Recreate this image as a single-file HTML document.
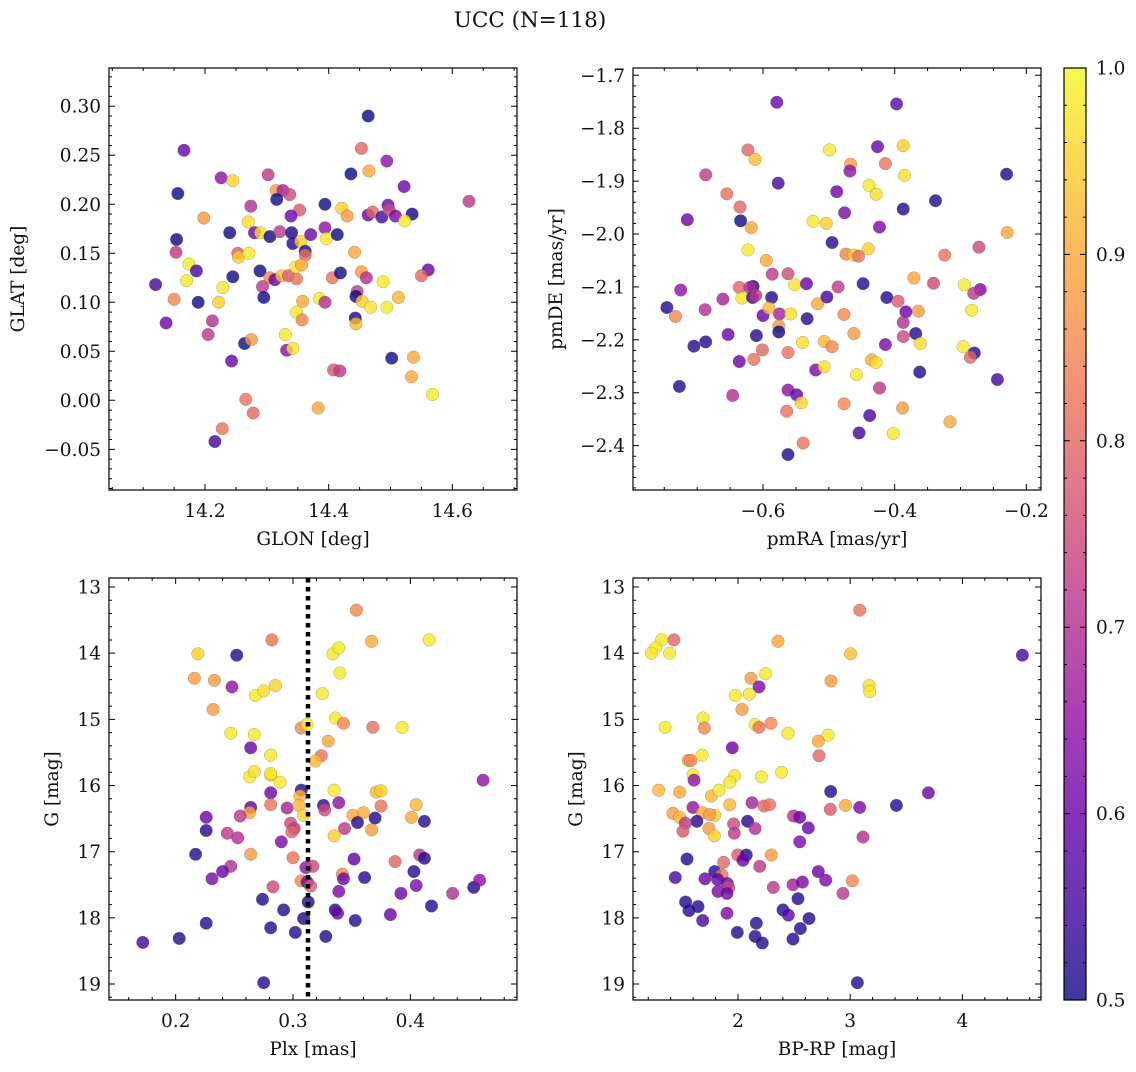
<!DOCTYPE html>
<html><head><meta charset="utf-8"><style>
html,body{margin:0;padding:0;background:#fff;}
svg text{font-family:"DejaVu Serif","Liberation Serif",serif;fill:#111;}
</style></head><body>
<svg id="fig" xmlns="http://www.w3.org/2000/svg" width="1136" height="1067" viewBox="0 0 1136 1067">
<text x="530" y="27" font-size="21.5" text-anchor="middle">UCC (N=118)</text>
</svg>
<script>
// ---- Panel 1: GLON vs GLAT ----
const p1Glon=[14.464,14.166,14.453,14.494,14.226,14.245,14.302,14.436,14.465,14.522,14.156,14.315,14.326,14.337,14.316,14.274,14.394,14.353,14.339,14.421,14.430,14.464,14.471,14.486,14.496,14.498,14.508,14.535,14.523,14.627,14.198,14.270,14.240,14.280,14.290,14.305,14.321,14.340,14.342,14.355,14.362,14.362,14.371,14.394,14.396,14.414,14.154,14.153,14.253,14.254,14.271,14.442,14.174,14.186,14.170,14.245,14.229,14.120,14.289,14.305,14.313,14.324,14.335,14.348,14.347,14.356,14.293,14.295,14.406,14.419,14.453,14.461,14.488,14.561,14.550,14.446,14.444,14.454,14.468,14.494,14.513,14.385,14.394,14.358,14.150,14.189,14.222,14.137,14.212,14.205,14.348,14.357,14.443,14.444,14.264,14.275,14.330,14.332,14.342,14.243,14.502,14.537,14.534,14.568,14.408,14.418,14.266,14.383,14.278,14.228,14.216];
const p1Glat=[0.290,0.255,0.257,0.244,0.227,0.224,0.230,0.231,0.234,0.218,0.211,0.214,0.214,0.210,0.205,0.198,0.200,0.194,0.188,0.196,0.188,0.189,0.192,0.187,0.199,0.194,0.188,0.190,0.183,0.203,0.186,0.182,0.171,0.171,0.171,0.167,0.172,0.171,0.160,0.162,0.152,0.148,0.169,0.176,0.165,0.169,0.164,0.151,0.150,0.146,0.150,0.151,0.139,0.132,0.122,0.126,0.115,0.118,0.132,0.125,0.123,0.127,0.127,0.124,0.136,0.138,0.116,0.105,0.125,0.130,0.131,0.125,0.121,0.133,0.127,0.111,0.106,0.101,0.095,0.095,0.105,0.104,0.100,0.101,0.103,0.100,0.100,0.079,0.081,0.067,0.090,0.082,0.084,0.078,0.058,0.062,0.067,0.051,0.053,0.040,0.043,0.044,0.024,0.006,0.031,0.030,0.001,-0.008,-0.013,-0.029,-0.042];
const p1Prob=[0.5,0.6,0.8,0.65,0.65,0.95,0.72,0.5,0.9,0.6,0.5,0.88,0.68,0.75,0.5,0.7,0.5,0.78,0.6,0.95,0.88,0.6,0.8,0.55,0.6,0.75,0.62,0.5,0.98,0.72,0.88,0.97,0.5,0.6,0.97,0.5,0.72,0.5,0.52,0.95,0.5,0.82,0.6,0.65,0.98,0.5,0.5,0.72,0.78,0.95,0.98,0.9,0.98,0.55,0.98,0.5,0.98,0.55,0.5,0.85,0.6,0.93,0.78,0.82,0.98,0.9,0.72,0.5,0.82,0.5,0.88,0.7,0.98,0.6,0.8,0.72,0.5,0.95,0.98,0.98,0.92,0.98,0.7,0.9,0.85,0.5,0.95,0.6,0.7,0.72,0.98,0.85,0.5,0.92,0.5,0.88,0.98,0.65,0.98,0.6,0.5,0.9,0.9,0.98,0.78,0.72,0.82,0.9,0.8,0.82,0.55];
// ---- Panel 2: pmRA vs pmDE ----
const p2PmRA=[-0.579,-0.397,-0.623,-0.612,-0.499,-0.426,-0.387,-0.467,-0.468,-0.414,-0.385,-0.687,-0.230,-0.577,-0.655,-0.488,-0.439,-0.428,-0.338,-0.635,-0.476,-0.387,-0.715,-0.634,-0.618,-0.524,-0.504,-0.423,-0.229,-0.495,-0.623,-0.474,-0.462,-0.455,-0.440,-0.324,-0.272,-0.595,-0.586,-0.562,-0.552,-0.534,-0.486,-0.448,-0.371,-0.341,-0.294,-0.270,-0.280,-0.725,-0.746,-0.733,-0.688,-0.661,-0.636,-0.615,-0.620,-0.632,-0.616,-0.611,-0.587,-0.600,-0.591,-0.575,-0.558,-0.533,-0.517,-0.503,-0.477,-0.412,-0.395,-0.383,-0.387,-0.364,-0.283,-0.576,-0.576,-0.705,-0.687,-0.653,-0.610,-0.601,-0.614,-0.636,-0.562,-0.540,-0.507,-0.495,-0.462,-0.414,-0.387,-0.368,-0.361,-0.296,-0.279,-0.285,-0.520,-0.507,-0.435,-0.428,-0.458,-0.362,-0.244,-0.727,-0.646,-0.562,-0.549,-0.542,-0.423,-0.477,-0.388,-0.564,-0.438,-0.316,-0.454,-0.402,-0.539,-0.562];
const p2PmDE=[-1.751,-1.754,-1.841,-1.859,-1.841,-1.835,-1.833,-1.868,-1.881,-1.867,-1.889,-1.888,-1.887,-1.904,-1.924,-1.920,-1.908,-1.925,-1.937,-1.949,-1.960,-1.953,-1.973,-1.975,-1.988,-1.976,-1.980,-1.987,-1.997,-2.016,-2.030,-2.038,-2.040,-2.042,-2.028,-2.040,-2.025,-2.050,-2.076,-2.075,-2.096,-2.094,-2.100,-2.094,-2.083,-2.093,-2.096,-2.105,-2.112,-2.106,-2.139,-2.156,-2.143,-2.123,-2.101,-2.099,-2.101,-2.121,-2.120,-2.116,-2.120,-2.154,-2.140,-2.151,-2.151,-2.160,-2.132,-2.119,-2.152,-2.120,-2.127,-2.147,-2.167,-2.146,-2.144,-2.174,-2.185,-2.212,-2.204,-2.190,-2.192,-2.219,-2.237,-2.241,-2.224,-2.205,-2.203,-2.213,-2.188,-2.209,-2.194,-2.188,-2.207,-2.213,-2.225,-2.233,-2.257,-2.251,-2.238,-2.243,-2.266,-2.261,-2.275,-2.288,-2.305,-2.295,-2.304,-2.319,-2.291,-2.321,-2.329,-2.335,-2.343,-2.355,-2.376,-2.377,-2.395,-2.417];
const p2Prob=[0.6,0.58,0.8,0.93,0.98,0.6,0.95,0.88,0.65,0.82,0.97,0.72,0.52,0.55,0.82,0.6,0.98,0.97,0.52,0.8,0.62,0.52,0.6,0.5,0.9,0.98,0.95,0.62,0.9,0.52,0.98,0.85,0.95,0.82,0.95,0.82,0.75,0.9,0.72,0.75,0.98,0.6,0.72,0.52,0.9,0.75,0.98,0.62,0.72,0.65,0.52,0.85,0.7,0.68,0.8,0.5,0.7,0.98,0.55,0.72,0.52,0.6,0.92,0.68,0.97,0.52,0.9,0.55,0.85,0.52,0.78,0.6,0.7,0.88,0.98,0.88,0.5,0.52,0.52,0.6,0.52,0.8,0.82,0.6,0.82,0.97,0.92,0.85,0.88,0.62,0.75,0.52,0.97,0.98,0.52,0.8,0.62,0.97,0.9,0.97,0.98,0.52,0.55,0.52,0.7,0.65,0.58,0.95,0.72,0.85,0.88,0.82,0.55,0.9,0.55,0.98,0.82,0.52];
// ---- Panel 3: Plx vs G ----
const p3Plx=[0.354,0.282,0.367,0.416,0.219,0.252,0.334,0.339,0.340,0.216,0.233,0.248,0.268,0.275,0.285,0.232,0.325,0.247,0.267,0.307,0.312,0.336,0.343,0.368,0.393,0.264,0.281,0.330,0.324,0.319,0.263,0.267,0.281,0.281,0.289,0.462,0.281,0.307,0.306,0.335,0.371,0.375,0.405,0.339,0.326,0.327,0.264,0.263,0.281,0.295,0.305,0.309,0.226,0.255,0.351,0.360,0.375,0.401,0.412,0.355,0.370,0.226,0.244,0.253,0.298,0.301,0.299,0.344,0.335,0.367,0.290,0.217,0.264,0.300,0.352,0.387,0.408,0.412,0.247,0.240,0.231,0.311,0.317,0.342,0.343,0.361,0.403,0.307,0.312,0.315,0.283,0.339,0.392,0.405,0.436,0.454,0.459,0.274,0.292,0.313,0.336,0.338,0.383,0.418,0.309,0.353,0.226,0.281,0.302,0.328,0.203,0.172,0.275];
const p3G=[13.35,13.80,13.82,13.80,14.01,14.03,14.01,13.92,14.30,14.38,14.41,14.51,14.64,14.57,14.49,14.85,14.61,15.21,15.23,15.13,15.08,14.98,15.06,15.12,15.12,15.43,15.54,15.33,15.55,15.63,15.87,15.79,15.84,15.82,15.95,15.92,16.11,16.07,16.16,16.07,16.10,16.08,16.29,16.26,16.30,16.37,16.33,16.41,16.29,16.34,16.30,16.45,16.48,16.46,16.45,16.41,16.31,16.48,16.54,16.56,16.49,16.68,16.72,16.79,16.57,16.65,16.70,16.65,16.76,16.67,16.85,17.04,17.04,17.09,17.11,17.15,17.05,17.10,17.22,17.30,17.41,17.24,17.22,17.34,17.41,17.39,17.30,17.44,17.46,17.52,17.53,17.60,17.63,17.51,17.63,17.54,17.43,17.72,17.88,17.76,17.88,17.93,17.95,17.82,18.01,18.04,18.08,18.15,18.22,18.28,18.31,18.37,18.98];
const p3Prob=[0.85,0.82,0.9,0.98,0.95,0.52,0.98,0.98,0.98,0.88,0.88,0.65,0.98,0.97,0.95,0.88,0.98,0.98,0.98,0.85,0.98,0.98,0.85,0.82,0.98,0.6,0.98,0.9,0.82,0.92,0.98,0.97,0.95,0.98,0.98,0.65,0.6,0.52,0.92,0.98,0.92,0.95,0.92,0.65,0.52,0.75,0.58,0.9,0.82,0.68,0.92,0.95,0.6,0.72,0.9,0.9,0.82,0.9,0.52,0.52,0.52,0.52,0.72,0.7,0.75,0.72,0.8,0.72,0.95,0.88,0.62,0.52,0.88,0.82,0.58,0.8,0.72,0.52,0.7,0.6,0.62,0.65,0.75,0.85,0.6,0.52,0.52,0.85,0.6,0.78,0.75,0.62,0.6,0.62,0.7,0.52,0.65,0.52,0.52,0.52,0.52,0.6,0.6,0.52,0.52,0.52,0.52,0.52,0.52,0.52,0.52,0.55,0.52];
const p3PlxMarker=0.3128;
// ---- Panel 4: BP-RP vs G ----
const p4BpRp=[3.085,1.429,1.319,1.266,1.227,1.391,2.357,3.004,4.535,2.247,2.116,2.187,2.829,3.168,3.174,1.976,2.101,2.036,1.349,1.688,1.700,2.152,2.187,2.294,2.446,2.802,2.716,2.722,1.949,1.557,1.578,1.679,1.599,1.608,1.970,1.926,2.208,2.389,1.293,1.480,1.762,1.831,1.926,1.599,2.826,3.412,3.697,2.125,2.232,2.282,2.823,2.957,3.085,1.420,1.480,1.682,1.634,1.792,1.747,1.530,1.510,1.741,1.789,1.961,1.967,2.086,2.152,2.496,2.550,2.627,2.550,3.114,1.545,1.997,2.074,2.297,2.045,1.441,1.706,1.792,1.872,1.857,2.193,2.315,1.819,1.905,1.917,1.822,1.902,2.490,2.574,2.716,2.782,3.019,2.936,1.533,1.563,1.643,1.685,1.902,2.401,2.449,2.535,2.633,2.163,2.556,1.994,2.152,2.217,2.490,3.064];
const p4G=[13.35,13.80,13.80,13.92,14.00,14.00,13.82,14.01,14.03,14.31,14.38,14.51,14.42,14.49,14.58,14.64,14.62,14.85,15.12,14.98,15.13,15.08,15.12,15.06,15.21,15.24,15.33,15.55,15.43,15.62,15.62,15.54,15.84,15.92,15.85,15.95,15.87,15.80,16.07,16.10,16.16,16.07,16.29,16.33,16.09,16.30,16.11,16.26,16.31,16.29,16.36,16.30,16.33,16.42,16.48,16.41,16.54,16.45,16.44,16.57,16.69,16.65,16.76,16.58,16.72,16.54,16.65,16.46,16.48,16.64,16.85,16.78,17.11,17.05,17.05,17.05,17.13,17.39,17.41,17.30,17.16,17.35,17.22,17.54,17.42,17.48,17.54,17.60,17.63,17.50,17.46,17.30,17.43,17.44,17.63,17.76,17.89,17.83,18.04,17.93,17.88,17.96,17.71,18.01,18.08,18.16,18.22,18.28,18.38,18.32,18.98];
const p4Prob=[0.82,0.8,0.98,0.98,0.98,0.98,0.9,0.93,0.55,0.98,0.88,0.62,0.88,0.97,0.98,0.98,0.98,0.88,0.98,0.98,0.85,0.98,0.82,0.85,0.98,0.98,0.9,0.8,0.6,0.88,0.85,0.98,0.98,0.65,0.97,0.98,0.98,0.98,0.92,0.9,0.92,0.98,0.92,0.65,0.52,0.52,0.6,0.68,0.8,0.82,0.78,0.9,0.62,0.88,0.92,0.9,0.52,0.95,0.88,0.72,0.78,0.88,0.95,0.75,0.72,0.52,0.7,0.7,0.6,0.6,0.62,0.7,0.52,0.78,0.52,0.88,0.6,0.55,0.6,0.52,0.8,0.82,0.72,0.72,0.58,0.6,0.75,0.62,0.6,0.68,0.62,0.6,0.62,0.85,0.72,0.52,0.52,0.52,0.55,0.62,0.52,0.58,0.52,0.52,0.52,0.52,0.52,0.52,0.52,0.52,0.52];
// ---- Tick labels ----
const p1XTicks=[14.2,14.4,14.6], p1YTicks=[-0.05,0,0.05,0.10,0.15,0.20,0.25,0.30];
const p2XTicks=[-0.6,-0.4,-0.2], p2YTicks=[-2.4,-2.3,-2.2,-2.1,-2.0,-1.9,-1.8,-1.7];
const p3XTicks=[0.2,0.3,0.4], p34YTicks=[13,14,15,16,17,18,19];
const p4XTicks=[2,3,4];
const cbTicks=[0.5,0.6,0.7,0.8,0.9,1.0];

const NS="http://www.w3.org/2000/svg";
const svg=document.getElementById('fig');
const FS=18.5;
function mk(tag,attrs,parent){const e=document.createElementNS(NS,tag);for(const k in attrs)e.setAttribute(k,attrs[k]);(parent||svg).appendChild(e);return e;}
const plasma=[[13,8,135],[65,4,157],[106,0,168],[143,13,164],[177,42,144],[204,71,120],[225,100,98],[242,132,75],[252,166,54],[252,206,37],[240,249,33]];
function cmap(v){let t=(v-0.5)/0.5;t=Math.max(0,Math.min(1,t));const f=t*10,i=Math.min(9,Math.floor(f)),r=f-i;const a=plasma[i],b=plasma[i+1];return `rgb(${Math.round(a[0]+(b[0]-a[0])*r)},${Math.round(a[1]+(b[1]-a[1])*r)},${Math.round(a[2]+(b[2]-a[2])*r)})`;}
function fmt(v,d){return (v<0?'\u2212':'')+Math.abs(v).toFixed(d);}

function panel(cfg){
  const {name,L,T,W,H,xmin,xmax,ymin,ymax,invert}=cfg;
  const g=mk('g',{});
  
  
  const sx=v=>L+(v-xmin)/(xmax-xmin)*W;
  const sy=invert?(v=>T+(v-ymin)/(ymax-ymin)*H):(v=>T+H-(v-ymin)/(ymax-ymin)*H);
  const pg=mk('g',{},g);
  
  
  for(let i=0;i<cfg.xs.length;i++){
    const c=mk('circle',{cx:sx(cfg.xs[i]).toFixed(1),cy:sy(cfg.ys[i]).toFixed(1),r:6.3,fill:cmap(cfg.cs[i]),'fill-opacity':0.8,stroke:'#555','stroke-width':0.4,'stroke-opacity':0.6},pg);
    
    
  }
  if(cfg.vline!==undefined){
    const ln=mk('line',{x1:sx(cfg.vline),x2:sx(cfg.vline),y1:T,y2:T+H,stroke:'#000','stroke-width':4.5,'stroke-dasharray':'4.5 4.5'},g);
    
    
  }
  const fr=mk('rect',{x:L,y:T,width:W,height:H,fill:'none',stroke:'#000','stroke-width':1.2},g);
  
  
  let d='';
  const eps=1e-9;
  for(let v=Math.ceil(xmin/cfg.xminor)*cfg.xminor;v<=xmax+eps;v+=cfg.xminor){const x=sx(v);d+=`M${x},${T+H}v-3M${x},${T}v3`;}
  for(let v=Math.ceil(ymin/cfg.yminor)*cfg.yminor;v<=ymax+eps;v+=cfg.yminor){const y=sy(v);d+=`M${L},${y}h3M${L+W},${y}h-3`;}
  cfg.xt.forEach(v=>{const x=sx(v);d+=`M${x},${T+H}v-6M${x},${T}v6`;});
  cfg.yt.forEach(v=>{const y=sy(v);d+=`M${L},${y}h6M${L+W},${y}h-6`;});
  const tk=mk('path',{d:d,stroke:'#000','stroke-width':1,fill:'none'},g);
  
  
  cfg.xt.forEach(v=>{const t=mk('text',{x:sx(v),y:T+H+27,'font-size':FS,'text-anchor':'middle'},g);t.textContent=fmt(v,cfg.xd);
    
    });
  cfg.yt.forEach(v=>{const t=mk('text',{x:L-8,y:sy(v)+6.5,'font-size':FS,'text-anchor':'end'},g);t.textContent=fmt(v,cfg.yd);
    
    });
  const xl=mk('text',{x:L+W/2,y:T+H+55,'font-size':FS,'text-anchor':'middle'},g);xl.textContent=cfg.xlabel;
  
  
  const yl=mk('text',{x:0,y:0,'font-size':FS,'text-anchor':'middle',transform:`translate(${cfg.ylx},${T+H/2}) rotate(-90)`},g);yl.textContent=cfg.ylabel;
  
  
}
panel({name:'glon-glat',L:109,T:68,W:408,H:422,xmin:14.0447,xmax:14.7046,ymin:-0.0915,ymax:0.339,xs:p1Glon,ys:p1Glat,cs:p1Prob,xt:p1XTicks,yt:p1YTicks,xminor:0.05,yminor:0.01,xd:1,yd:2,xlabel:'GLON [deg]',ylabel:'GLAT [deg]',ylx:24});
panel({name:'pmra-pmde',L:633,T:68,W:408,H:422,xmin:-0.7975,xmax:-0.1777,ymin:-2.4839,ymax:-1.6862,xs:p2PmRA,ys:p2PmDE,cs:p2Prob,xt:p2XTicks,yt:p2YTicks,xminor:0.05,yminor:0.02,xd:1,yd:1,xlabel:'pmRA [mas/yr]',ylabel:'pmDE [mas/yr]',ylx:562});
panel({name:'plx-g',L:109,T:578,W:408,H:422,xmin:0.1432,xmax:0.4909,ymin:12.864,ymax:19.241,invert:true,xs:p3Plx,ys:p3G,cs:p3Prob,xt:p3XTicks,yt:p34YTicks,xminor:0.02,yminor:0.2,xd:1,yd:0,xlabel:'Plx [mas]',ylabel:'G [mag]',ylx:58,vline:p3PlxMarker});
panel({name:'bprp-g',L:633,T:578,W:408,H:422,xmin:1.064,xmax:4.701,ymin:12.864,ymax:19.241,invert:true,xs:p4BpRp,ys:p4G,cs:p4Prob,xt:p4XTicks,yt:p34YTicks,xminor:0.2,yminor:0.2,xd:0,yd:0,xlabel:'BP-RP [mag]',ylabel:'G [mag]',ylx:582});

(function(){
  const L=1064,T=68,W=22,H=932;
  const cg=mk('g',{});
  
  
  const defs=mk('defs',{},cg);
  const lg=mk('linearGradient',{id:'cbg',x1:0,y1:1,x2:0,y2:0},defs);
  for(let i=0;i<=20;i++){const v=0.5+i*0.025;mk('stop',{offset:(i/20),'stop-color':cmap(v),'stop-opacity':0.8},lg);}
  const r=mk('rect',{x:L,y:T,width:W,height:H,fill:'url(#cbg)',stroke:'#000','stroke-width':1.2},cg);
  
  
  const sy=v=>T+H-(v-0.5)/0.5*H;
  let d='';
  for(let v=0.5;v<=1.0001;v+=0.02){const y=sy(v);d+=`M${L+W},${y}h-3M${L},${y}h3`;}
  cbTicks.forEach(v=>{const y=sy(v);d+=`M${L+W},${y}h-6M${L},${y}h6`;});
  mk('path',{d:d,stroke:'#000','stroke-width':1},cg);
  cbTicks.forEach(v=>{const t=mk('text',{x:L+W+10,y:sy(v)+6.5,'font-size':FS},cg);t.textContent=v.toFixed(1);
    
    });
})();
</script>
</body></html>
